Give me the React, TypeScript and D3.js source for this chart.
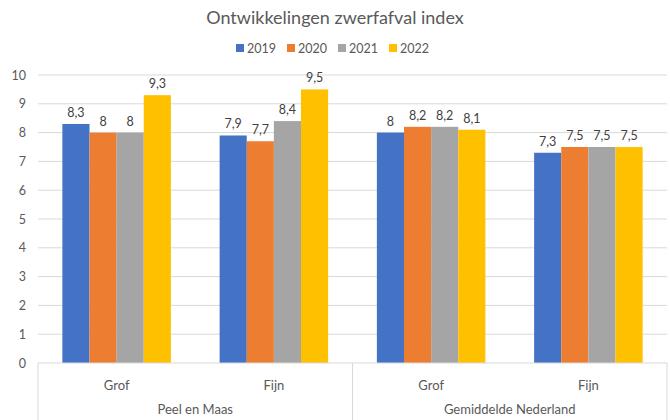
import { useRef, useEffect } from 'react'
import * as d3 from 'd3'

const groups = ['Peel en Maas', 'Gemiddelde Nederland']
const subCategories = ['Grof', 'Fijn']
const years = ['2019', '2020', '2021', '2022']
const colors = ['#4472C4', '#ED7D31', '#A5A5A5', '#FFC000']

// one value per year for each group/subcategory, in order: PM Grof, PM Fijn, GN Grof, GN Fijn
const values2019 = [8.3, 7.9, 8, 7.3]
const values2020 = [8, 7.7, 8.2, 7.5]
const values2021 = [8, 8.4, 8.2, 7.5]
const values2022 = [9.3, 9.5, 8.1, 7.5]
const series = [values2019, values2020, values2021, values2022]

const yTicks = [0, 1, 2, 3, 4, 5, 6, 7, 8, 9, 10]

function App() {
  const containerRef = useRef<HTMLDivElement>(null)

  useEffect(() => {
    if (!containerRef.current) return
    const container = containerRef.current
    container.innerHTML = ''

    const width = 670
    const height = 420
    const margin = { top: 75, right: 3, bottom: 57, left: 38 }
    const font = 'Lato, "Open Sans", sans-serif'
    const textColor = '#595959'

    const svg = d3.select(container)
      .append('svg')
      .attr('width', width)
      .attr('height', height)
      .style('display', 'block')
      .style('font-family', font)

    svg.append('rect').attr('width', width).attr('height', height).attr('fill', '#fff')

    const categories: string[] = []
    groups.forEach(g => subCategories.forEach(s => categories.push(`${g}|${s}`)))

    const x0 = d3.scaleBand()
      .domain(categories)
      .range([margin.left, width - margin.right])
      .paddingInner(0.31)
      .paddingOuter(0.155)

    const x1 = d3.scaleBand()
      .domain(years)
      .range([0, x0.bandwidth()])

    const y = d3.scaleLinear()
      .domain([0, 10])
      .range([height - margin.bottom, margin.top])

    // Title
    svg.append('text')
      .attr('x', width / 2)
      .attr('y', 24)
      .attr('text-anchor', 'middle')
      .attr('font-size', '18px')
      .attr('fill', textColor)
      .text('Ontwikkelingen zwerfafval index')

    // Legend
    const legendItemW = 51
    const legendX = width / 2 - (legendItemW * years.length) / 2 + 3
    const legend = svg.append('g')
    years.forEach((yr, i) => {
      const gx = legendX + i * legendItemW
      legend.append('rect')
        .attr('x', gx)
        .attr('y', 44)
        .attr('width', 8)
        .attr('height', 8)
        .attr('fill', colors[i])
      legend.append('text')
        .attr('x', gx + 11)
        .attr('y', 52.5)
        .attr('font-size', '12.5px')
        .attr('fill', textColor)
        .text(yr)
    })

    // Gridlines
    svg.append('g')
      .selectAll('line')
      .data(yTicks.filter(t => t > 0))
      .enter()
      .append('line')
      .attr('x1', margin.left)
      .attr('x2', width - margin.right)
      .attr('y1', d => y(d))
      .attr('y2', d => y(d))
      .attr('stroke', '#d9d9d9')
      .attr('stroke-width', 1)

    // Y labels
    svg.append('g')
      .selectAll('text')
      .data(yTicks)
      .enter()
      .append('text')
      .attr('x', 26)
      .attr('y', d => y(d) + 4.5)
      .attr('text-anchor', 'end')
      .attr('font-size', '12.5px')
      .attr('fill', textColor)
      .text(d => d)

    // Bars
    categories.forEach((cat, ci) => {
      const g = svg.append('g').attr('transform', `translate(${x0(cat)},0)`)
      years.forEach((yr, si) => {
        const v = series[si][ci]
        g.append('rect')
          .attr('x', x1(yr)!)
          .attr('y', y(v))
          .attr('width', x1.bandwidth())
          .attr('height', y(0) - y(v))
          .attr('fill', colors[si])
        g.append('text')
          .attr('x', x1(yr)! + x1.bandwidth() / 2)
          .attr('y', y(v) - 7)
          .attr('text-anchor', 'middle')
          .attr('font-size', '12.5px')
          .attr('fill', '#404040')
          .text(String(v).replace('.', ','))
      })
    })

    // Category axis
    const axisY = y(0)
    const axisColor = '#d9d9d9'
    svg.append('line')
      .attr('x1', margin.left)
      .attr('x2', width - margin.right)
      .attr('y1', axisY)
      .attr('y2', axisY)
      .attr('stroke', axisColor)

    const plotW = width - margin.right - margin.left
    const edges = [margin.left, margin.left + plotW / 2, width - margin.right]
    edges.forEach(ex => {
      svg.append('line')
        .attr('x1', ex)
        .attr('x2', ex)
        .attr('y1', axisY)
        .attr('y2', height)
        .attr('stroke', axisColor)
    })

    categories.forEach(cat => {
      svg.append('text')
        .attr('x', x0(cat)! + x0.bandwidth() / 2)
        .attr('y', axisY + 27)
        .attr('text-anchor', 'middle')
        .attr('font-size', '13px')
        .attr('fill', textColor)
        .text(cat.split('|')[1])
    })

    groups.forEach((grp, gi) => {
      svg.append('text')
        .attr('x', edges[gi] + plotW / 4)
        .attr('y', axisY + 51)
        .attr('text-anchor', 'middle')
        .attr('font-size', '13px')
        .attr('fill', textColor)
        .text(grp)
    })
  }, [])

  return <div ref={containerRef} style={{ position: 'absolute', left: 0, top: 0 }} />
}

export default App
